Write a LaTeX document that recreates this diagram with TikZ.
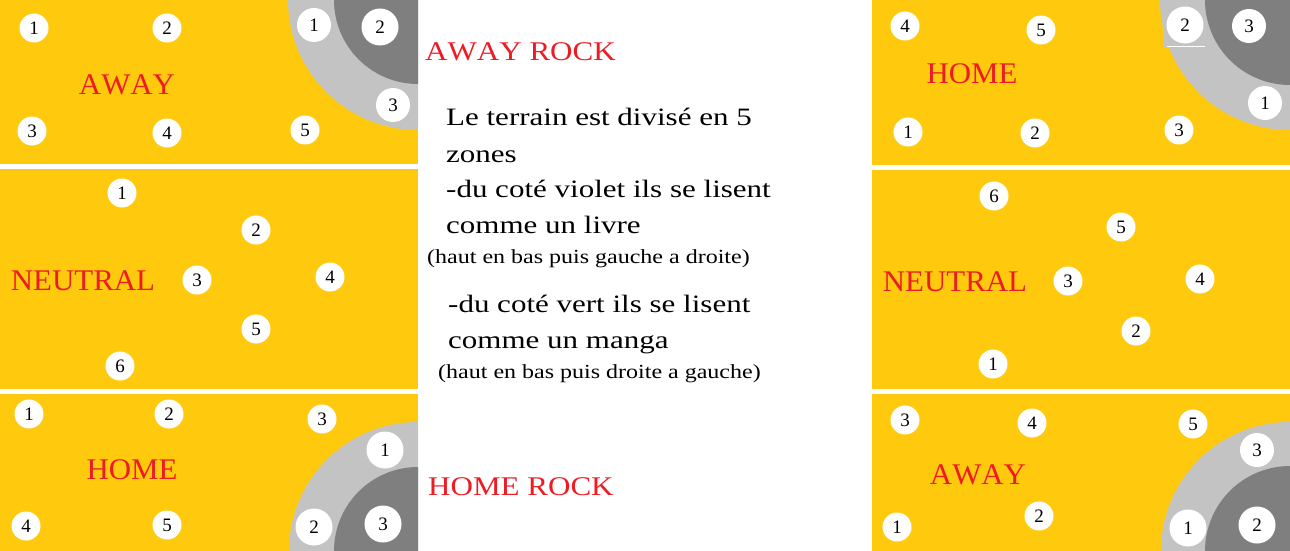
\documentclass[tikz,border=0pt]{standalone}
\usepackage{fontspec}
\setmainfont{Liberation Serif}
\newfontfamily\notefont[FakeStretch=1.24]{Liberation Serif}
\newfontfamily\smallfont[FakeStretch=1.2]{Liberation Serif}
\newfontfamily\rockfont[FakeStretch=1.15,Kerning=Off]{Liberation Serif}
\newfontfamily\zonefont[FakeStretch=1.03,Kerning=Off]{Liberation Serif}
\definecolor{field}{RGB}{255,201,14}
\definecolor{rockl}{RGB}{195,195,195}
\definecolor{rockd}{RGB}{127,127,127}
\definecolor{lab}{RGB}{237,28,36}
\begin{document}
\begin{tikzpicture}[x=1pt,y=-1pt,
  spot/.style={circle,fill=white,inner sep=0pt,minimum size=29pt,font=\fontsize{19}{19}\selectfont},
  bigspot/.style={spot,minimum size=37pt},
  midspot/.style={spot,minimum size=34pt},
  zone/.style={text=lab,inner sep=0pt,font=\zonefont\fontsize{30}{30}\selectfont},
  rocklab/.style={text=lab,inner sep=0pt,anchor=base west,font=\rockfont\fontsize{27}{27}\selectfont},
  note/.style={inner sep=0pt,anchor=base west,font=\notefont\fontsize{25}{25}\selectfont},
  small/.style={inner sep=0pt,anchor=base west,font=\smallfont\fontsize{20}{20}\selectfont}]
\useasboundingbox (0,0) rectangle (1290,551);
\fill[white] (0,0) rectangle (1290,551);
% panels
\fill[field] (0,0) rectangle (418,164);
\fill[field] (0,169) rectangle (418,389);
\fill[field] (0,394) rectangle (418,551);
\fill[field] (872,0) rectangle (1290,165);
\fill[field] (872,170) rectangle (1290,389);
\fill[field] (872,394) rectangle (1290,551);
% rocks
\begin{scope}
\clip (0,0) rectangle (418,164);
\fill[rockl] (418,0) circle (130pt);
\fill[rockd] (418,0) circle (84pt);
\end{scope}
\begin{scope}
\clip (0,394) rectangle (418,551);
\fill[rockl] (418,551) circle (129pt);
\fill[rockd] (418,551) circle (84pt);
\end{scope}
\begin{scope}
\clip (872,0) rectangle (1290,165);
\fill[rockl] (1290,0) circle (130pt);
\fill[rockl] (1163,0) rectangle (1205,47);
\fill[rockd] (1290,0) circle (85pt);
\end{scope}
\begin{scope}
\clip (872,394) rectangle (1290,551);
\fill[rockl] (1290,551) circle (129pt);
\fill[rockd] (1290,551) circle (85pt);
\end{scope}
% left top: AWAY
\node[zone] (lt) at (127,85) {AWAY};
\node[spot] (lt1) at (34,28) {1};
\node[spot] (lt2) at (167,28) {2};
\node[spot] (lt3) at (32,131) {3};
\node[spot] (lt4) at (167,133) {4};
\node[spot] (lt5) at (305,130) {5};
\node[midspot] (ltr1) at (314,25) {1};
\node[bigspot] (ltr2) at (380,27) {2};
\node[midspot] (ltr3) at (393,105) {3};
% left middle: NEUTRAL
\node[zone] (lm) at (83,281) {NEUTRAL};
\node[spot] (lm1) at (122,193) {1};
\node[spot] (lm2) at (256,230) {2};
\node[spot] (lm3) at (197,280) {3};
\node[spot] (lm4) at (330,277) {4};
\node[spot] (lm5) at (256,329) {5};
\node[spot] (lm6) at (120,366) {6};
% left bottom: HOME
\node[zone] (lb) at (132,470) {HOME};
\node[spot] (lb1) at (29,414) {1};
\node[spot] (lb2) at (169,414) {2};
\node[spot] (lb3) at (322,419) {3};
\node[spot] (lb4) at (26,526) {4};
\node[spot] (lb5) at (167,525) {5};
\node[bigspot] (lbr1) at (385,450) {1};
\node[bigspot] (lbr2) at (314,527) {2};
\node[bigspot] (lbr3) at (383,524) {3};
% right top: HOME
\node[zone] (rt) at (972,74) {HOME};
\node[spot] (rt4) at (905,26) {4};
\node[spot] (rt5) at (1041,30) {5};
\node[spot] (rt1) at (908,132) {1};
\node[spot] (rt2) at (1035,133) {2};
\node[spot] (rt3) at (1179,130) {3};
\node[bigspot] (rtr2) at (1185,25) {2};
\draw[white,line width=1pt] (1167,47) -- (1205,47);
\node[midspot] (rtr3) at (1249,26) {3};
\node[midspot] (rtr1) at (1265,103) {1};
% right middle: NEUTRAL
\node[zone] (rm) at (955,282) {NEUTRAL};
\node[spot] (rm6) at (994,196) {6};
\node[spot] (rm5) at (1121,227) {5};
\node[spot] (rm3) at (1068,281) {3};
\node[spot] (rm4) at (1200,279) {4};
\node[spot] (rm2) at (1136,331) {2};
\node[spot] (rm1) at (993,364) {1};
% right bottom: AWAY
\node[zone] (rb) at (978,475) {AWAY};
\node[spot] (rb3) at (905,420) {3};
\node[spot] (rb4) at (1032,423) {4};
\node[spot] (rb5) at (1193,424) {5};
\node[spot] (rb1) at (897,527) {1};
\node[spot] (rb2) at (1039,516) {2};
\node[midspot] (rbr3) at (1257,450) {3};
\node[bigspot] (rbr1) at (1188,528) {1};
\node[bigspot] (rbr2) at (1257,525) {2};
% rock labels
\node[rocklab] (ar) at (425,61) {AWAY ROCK};
\node[rocklab] (hr) at (428,495) {HOME ROCK};
% notes
\node[note] (n1) at (446,125) {Le terrain est divisé en 5};
\node[note] (n2) at (446,162) {zones};
\node[note] (n3) at (446,197) {-du coté violet ils se lisent};
\node[note] (n4) at (446,233) {comme un livre};
\node[small] (n5) at (427,263) {(haut en bas puis gauche a droite)};
\node[note] (n6) at (448,312) {-du coté vert ils se lisent};
\node[note] (n7) at (448,348) {comme un manga};
\node[small] (n8) at (438,378) {(haut en bas puis droite a gauche)};
\end{tikzpicture}
\end{document}
